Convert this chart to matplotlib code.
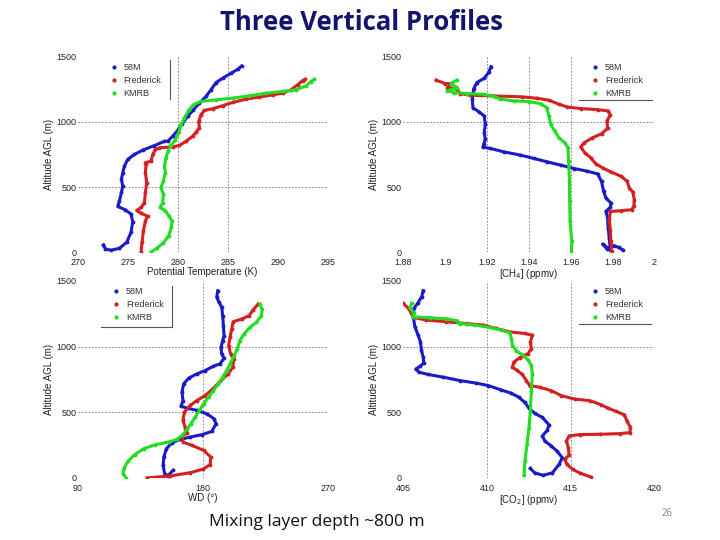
import numpy as np
import matplotlib
matplotlib.use("Agg")
import matplotlib.pyplot as plt

# colours of the three sites
c_58m = "#1a1ac8"
c_fred = "#d42020"
c_kmrb = "#22dd22"

# ---- potential temperature (K) vs altitude (m)
pt_58m_x = [272.57, 272.77, 273.33, 274.17, 274.9, 275.33, 275.5, 275.33, 274.77, 274.0, 274.17, 274.37,
            274.5, 274.37, 274.5, 274.67, 275.0, 275.67, 276.5, 277.67, 278.67, 279.0, 279.5, 280.0,
            280.43, 281.0, 281.57, 282.17, 282.83, 283.33, 283.83, 284.5, 285.33, 286.0, 286.4]
pt_58m_z = [56, 25, 15, 30, 76, 153, 234, 292, 325, 351, 394, 458, 508, 559, 610, 661, 712, 750, 783,
            818, 851, 851, 890, 935, 986, 1042, 1093, 1144, 1195, 1246, 1301, 1335, 1373, 1403, 1429]
pt_fred_x = [276.33, 276.43, 276.57, 276.77, 277.0, 276.33, 275.9, 276.33, 276.67, 276.77, 276.9, 276.77,
             276.83, 276.77, 277.33, 277.5, 277.77, 278.17, 279.5, 280.17, 280.83, 281.5, 281.83, 282.17,
             282.1, 282.33, 282.67, 283.5, 284.5, 285.5, 286.83, 288.17, 289.5, 290.5, 291.33, 292.0,
             292.5, 292.77]
pt_fred_z = [0, 76, 165, 241, 275, 300, 320, 343, 381, 458, 534, 610, 674, 686, 699, 750, 788, 801, 808,
             819, 851, 890, 920, 953, 1004, 1055, 1088, 1101, 1124, 1149, 1174, 1190, 1207, 1220, 1246,
             1284, 1317, 1327]
pt_kmrb_x = [277.33, 277.9, 278.57, 279.1, 279.37, 279.43, 279.1, 278.77, 278.23, 278.5, 278.57, 278.33,
             278.57, 278.77, 278.67, 278.83, 279.03, 279.33, 279.77, 280.1, 280.33, 280.67, 281.1, 281.57,
             282.33, 283.83, 285.5, 287.17, 288.83, 290.5, 291.83, 292.83, 293.33, 293.67]
pt_kmrb_z = [0, 30, 71, 127, 191, 241, 280, 318, 343, 381, 445, 496, 547, 610, 661, 724, 775, 819, 864,
             920, 979, 1030, 1088, 1131, 1157, 1169, 1182, 1200, 1220, 1233, 1246, 1276, 1309, 1327]

# ---- CH4 (ppmv)
ch4_58m_x = [1.9219, 1.9208, 1.9187, 1.9152, 1.9136, 1.913, 1.9133, 1.916, 1.9187, 1.9192, 1.9187, 1.9192,
             1.9184, 1.9181, 1.9216, 1.928, 1.936, 1.9424, 1.9488, 1.9552, 1.9616, 1.968, 1.9728, 1.9747,
             1.9757, 1.9768, 1.9792, 1.9789, 1.9768, 1.9776, 1.9779, 1.9784, 1.9789, 1.9752, 1.9773,
             1.9805, 1.9829, 1.9848]
ch4_58m_z = [1423, 1379, 1335, 1302, 1251, 1174, 1109, 1079, 1045, 981, 917, 865, 827, 806, 796, 770, 745,
             719, 693, 668, 642, 621, 601, 544, 467, 416, 377, 344, 313, 262, 185, 108, 18, 62, 26, 51, 36, 18]
ch4_fred_x = [1.8957, 1.9, 1.9032, 1.9011, 1.9056, 1.9072, 1.912, 1.9232, 1.9368, 1.944, 1.9496, 1.9544,
              1.9584, 1.9648, 1.9728, 1.9779, 1.9789, 1.9773, 1.9776, 1.9747, 1.9704, 1.9664, 1.9648,
              1.9667, 1.9696, 1.972, 1.9752, 1.9792, 1.984, 1.9869, 1.988, 1.9896, 1.9904, 1.9901, 1.9891,
              1.984, 1.9789, 1.9784, 1.9789, 1.9792, 1.9795]
ch4_fred_z = [1320, 1294, 1294, 1263, 1251, 1217, 1204, 1199, 1192, 1181, 1166, 1135, 1114, 1102, 1094,
              1084, 1053, 1007, 950, 909, 878, 840, 806, 763, 724, 678, 647, 616, 583, 544, 493, 462, 403,
              352, 326, 318, 313, 249, 172, 82, 10]
ch4_kmrb_x = [1.9056, 1.9027, 1.9059, 1.9011, 1.9043, 1.9104, 1.9184, 1.924, 1.9264, 1.9328, 1.94, 1.9456,
              1.9485, 1.9496, 1.9504, 1.9523, 1.9544, 1.9571, 1.9587, 1.959, 1.9594, 1.9595, 1.9597,
              1.9605, 1.9603]
ch4_kmrb_z = [1320, 1294, 1263, 1238, 1225, 1217, 1212, 1192, 1174, 1161, 1156, 1140, 1109, 1045, 981, 930,
              878, 840, 801, 698, 544, 390, 236, 82, 5]

# ---- wind direction (deg)
wd_58m_x = [190.84, 190.13, 191.8, 193.7, 194.4, 194.9, 195.4, 194.4, 193.2, 193.7, 195.4, 192.5, 187.7,
            181.8, 175.8, 169.9, 166.3, 165.1, 165.8, 164.4, 168.7, 175.8, 183.0, 188.2, 189.6, 186.6,
            179.4, 171.1, 163.9, 157.9, 153.9, 152.0, 151.5, 152.5, 154.8, 158.7]
wd_58m_z = [1424, 1374, 1336, 1298, 1235, 1159, 1083, 1045, 994, 944, 911, 868, 850, 817, 792, 759, 716,
            653, 589, 546, 531, 514, 488, 450, 412, 354, 329, 311, 293, 268, 223, 159, 96, 33, 15, 58]
wd_fred_x = [219.9, 216.4, 213.5, 208.0, 202.0, 200.9, 199.7, 198.7, 200.1, 202.5, 201.6, 198.5, 192.5,
             187.3, 181.8, 175.8, 171.1, 166.8, 165.8, 167.5, 168.7, 165.1, 165.8, 172.2, 180.6, 185.8,
             185.4, 180.1, 171.1, 156.8, 140.1]
wd_fred_z = [1323, 1280, 1235, 1209, 1189, 1133, 1070, 1007, 944, 906, 842, 792, 734, 678, 627, 589, 552,
             501, 438, 380, 344, 311, 273, 248, 210, 159, 101, 66, 40, 15, 0]
wd_kmrb_x = [221.1, 222.8, 222.3, 218.7, 214.0, 209.7, 206.8, 204.9, 202.5, 199.7, 197.3, 194.4, 191.3,
             187.7, 184.2, 180.6, 177.7, 174.6, 171.5, 168.7, 165.8, 161.5, 155.6, 146.0, 137.7, 131.0,
             126.2, 123.4, 122.7, 124.8]
wd_kmrb_z = [1323, 1285, 1235, 1184, 1146, 1095, 1045, 982, 926, 868, 817, 767, 716, 665, 615, 564, 514,
             463, 412, 369, 329, 293, 273, 253, 223, 177, 127, 76, 33, 0]

# ---- CO2 (ppmv)
co2_58m_x = [406.19, 406.11, 405.89, 405.64, 405.6, 405.7, 405.89, 406.03, 406.09, 406.19, 406.23, 405.99,
             405.75, 405.95, 406.49, 407.38, 408.38, 409.37, 410.07, 410.86, 411.46, 411.91, 412.25,
             412.51, 412.85, 413.31, 413.7, 413.6, 413.31, 413.45, 413.84, 414.18, 414.5, 414.3, 413.9,
             413.35, 412.85, 412.59]
co2_58m_z = [1426, 1380, 1334, 1290, 1226, 1150, 1086, 1035, 971, 920, 874, 848, 828, 805, 787, 767, 741,
             721, 703, 669, 644, 613, 575, 531, 491, 460, 404, 363, 319, 281, 243, 204, 153, 102, 38, 20,
             38, 72]
co2_fred_x = [405.0, 405.36, 405.6, 406.39, 407.58, 408.78, 409.77, 410.56, 411.36, 412.25, 412.71, 412.59,
              412.65, 412.45, 411.95, 411.6, 411.52, 411.8, 412.11, 412.35, 412.55, 413.15, 413.84, 414.44,
              415.23, 416.13, 416.82, 417.22, 417.72, 418.21, 418.35, 418.55, 418.55, 417.92, 416.72,
              415.53, 414.9, 414.74, 414.86, 414.9, 414.64, 414.78, 415.13, 415.53, 416.23]
co2_fred_z = [1329, 1283, 1221, 1201, 1188, 1175, 1163, 1137, 1111, 1099, 1086, 1035, 984, 945, 915, 881,
              843, 818, 787, 741, 703, 690, 664, 626, 600, 588, 557, 531, 506, 480, 434, 388, 345, 337,
              332, 330, 319, 281, 230, 174, 141, 102, 64, 38, 5]
co2_kmrb_x = [405.5, 405.4, 405.64, 405.56, 406.59, 407.58, 408.22, 408.38, 409.27, 410.17, 410.86, 411.36,
              411.46, 411.52, 411.76, 412.15, 412.45, 412.65, 412.71, 412.65, 412.59, 412.51, 412.39,
              412.27, 412.21]
co2_kmrb_z = [1329, 1290, 1257, 1226, 1219, 1211, 1196, 1175, 1163, 1145, 1124, 1104, 1060, 1009, 966, 933,
              899, 856, 792, 664, 511, 383, 256, 128, 20]

site_names = ["58M", "Frederick", "KMRB"]
y_ticks = [0, 500, 1000, 1500]

plt.rcParams['font.family'] = ['Liberation Sans', 'DejaVu Sans']

fig = plt.figure(figsize=(7.2, 5.4), dpi=100)
fig.patch.set_facecolor("white")

axes_pos = [[0.108, 0.533, 0.347, 0.362],
            [0.560, 0.533, 0.349, 0.362],
            [0.108, 0.115, 0.347, 0.365],
            [0.560, 0.115, 0.349, 0.365]]

panels = [
    dict(data=[(pt_58m_x, pt_58m_z), (pt_fred_x, pt_fred_z), (pt_kmrb_x, pt_kmrb_z)],
         xlim=(270, 295), xticks=[270, 275, 280, 285, 290, 295], xlabels=None,
         gx=[280, 285], gy=[500, 1000], xlabel="Potential Temperature (K)",
         leg=(0.10, 1.0), frame=[((0.368, 0.368), (0.985, 0.785))]),
    dict(data=[(ch4_58m_x, ch4_58m_z), (ch4_fred_x, ch4_fred_z), (ch4_kmrb_x, ch4_kmrb_z)],
         xlim=(1.88, 2.0), xticks=[1.88, 1.9, 1.92, 1.94, 1.96, 1.98, 2.0],
         xlabels=["1.88", "1.9", "1.92", "1.94", "1.96", "1.98", "2"],
         gx=[1.92, 1.94, 1.96], gy=[1000], xlabel="[CH$_4$] (ppmv)",
         leg=(0.72, 1.0), frame=[((0.70, 0.99), (0.78, 0.78))]),
    dict(data=[(wd_58m_x, wd_58m_z), (wd_fred_x, wd_fred_z), (wd_kmrb_x, wd_kmrb_z)],
         xlim=(90, 270), xticks=[90, 180, 270], xlabels=None,
         gx=[180], gy=[500, 1000], xlabel="WD (°)",
         leg=(0.11, 1.0), frame=[((0.376, 0.376), (0.975, 0.767)), ((0.092, 0.376), (0.767, 0.767))]),
    dict(data=[(co2_58m_x, co2_58m_z), (co2_fred_x, co2_fred_z), (co2_kmrb_x, co2_kmrb_z)],
         xlim=(405, 420), xticks=[405, 410, 415, 420], xlabels=None,
         gx=[410, 415], gy=[1000], xlabel="[CO$_2$] (ppmv)",
         leg=(0.72, 1.0), frame=[((0.70, 0.985), (0.78, 0.78))]),
]

cols = [c_58m, c_fred, c_kmrb]

for pos, p in zip(axes_pos, panels):
    ax = fig.add_axes(pos)
    for gxv in p["gx"]:
        ax.axvline(gxv, color="#777777", ls=(0, (2, 2)), lw=0.6, zorder=0)
    for gyv in p["gy"]:
        ax.axhline(gyv, color="#777777", ls=(0, (2, 2)), lw=0.6, zorder=0)
    for (xs, zs), c, name in zip(p["data"], cols, site_names):
        ax.plot(xs, zs, color=c, lw=2.2, marker=".", ms=3.5, label=name)
    ax.set_xlim(*p["xlim"])
    ax.set_ylim(0, 1500)
    ax.set_xticks(p["xticks"])
    if p["xlabels"] is not None:
        ax.set_xticklabels(p["xlabels"])
    ax.set_yticks(y_ticks)
    for s in ax.spines.values():
        s.set_visible(False)
    ax.tick_params(length=0, labelsize=6.5, colors="#222222")
    ax.tick_params(axis="x", pad=4.5)
    ax.tick_params(axis="y", pad=1)
    ax.set_xlabel(p["xlabel"], fontsize=7, labelpad=0, color="#222222")
    ax.set_ylabel("Altitude AGL (m)", fontsize=7, labelpad=2, color="#222222")
    # legend handles: markers only, as in the figure
    proxies = [plt.Line2D([], [], color=c, marker=".", ms=4, lw=0) for c in cols]
    leg = ax.legend(proxies, site_names, loc="upper left", bbox_to_anchor=p["leg"],
                    frameon=False, fontsize=6.5, handlelength=1.0, handletextpad=0.6,
                    labelspacing=0.45, borderaxespad=0.3)
    for t in leg.get_texts():
        t.set_color("#333333")
    for (fx, fy) in p["frame"]:
        ax.plot(fx, fy, transform=ax.transAxes, color="#555555", lw=0.8, clip_on=False)

fig.text(0.502, 0.959, "Three Vertical Profiles", ha="center", va="center",
         fontsize=18.5, color="#12146e", family=["Open Sans", "DejaVu Sans"], fontweight="bold")
fig.text(0.440, 0.033, "Mixing layer depth ~800 m", ha="center", va="center",
         fontsize=12.5, color="#111111", family=["Open Sans", "DejaVu Sans"])
fig.text(0.926, 0.050, "26", ha="center", va="center", fontsize=7, color="#888888",
         family=["Open Sans", "DejaVu Sans"])

fig.savefig("out.png", dpi=100)
